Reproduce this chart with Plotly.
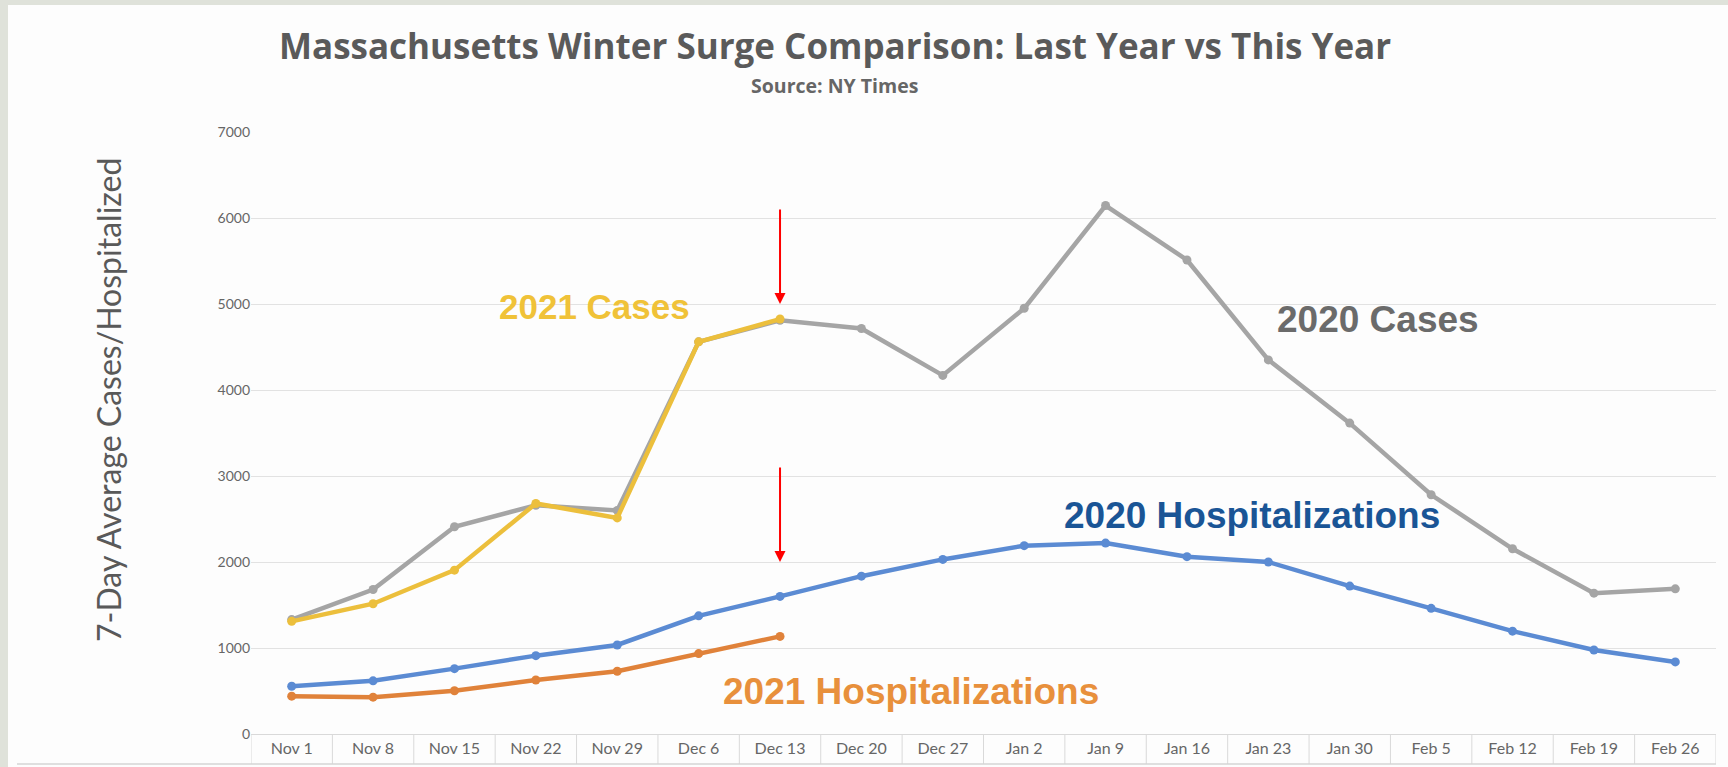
import plotly.graph_objects as go

# ---------------- data ----------------
weeks = ["Nov 1", "Nov 8", "Nov 15", "Nov 22", "Nov 29", "Dec 6", "Dec 13", "Dec 20", "Dec 27",
         "Jan 2", "Jan 9", "Jan 16", "Jan 23", "Jan 30", "Feb 5", "Feb 12", "Feb 19", "Feb 26"]
cases_2020 = [1330, 1680, 2410, 2660, 2600, 4560, 4810, 4715, 4170, 4950, 6145, 5512, 4350,
              3615, 2782, 2154, 1638, 1688]
cases_2021 = [1310, 1515, 1905, 2680, 2513, 4560, 4825]
hosp_2020 = [555, 618, 760, 911, 1035, 1374, 1600, 1835, 2030, 2190, 2220, 2062, 2000, 1720,
             1461, 1196, 977, 838]
hosp_2021 = [440, 428, 503, 628, 730, 935, 1135]
y_ticks = [0, 1000, 2000, 3000, 4000, 5000, 6000, 7000]
arrow_week = "Dec 13"
arrow_tips = [5000, 2000]

# ---------------- layout geometry (pixels) ----------------
WIDTH, HEIGHT = 1728, 767
L, R, T, B = 251, 1716, 132, 734
PW, PH = R - L, B - T


def px(x):
    return (x - L) / PW


def py(y):
    return (B - y) / PH


fig = go.Figure()

GRAY = "#a5a5a5"
GOLD = "#ecbf3c"
BLUE = "#5b8bd3"
ORANGE = "#e0823a"

for name, vals, col in [("2020 Cases", cases_2020, GRAY),
                        ("2021 Cases", cases_2021, GOLD),
                        ("2020 Hospitalizations", hosp_2020, BLUE),
                        ("2021 Hospitalizations", hosp_2021, ORANGE)]:
    fig.add_trace(go.Scatter(
        x=weeks[:len(vals)], y=vals, name=name, mode="lines+markers",
        line=dict(color=col, width=4.5),
        marker=dict(color=col, size=9),
        showlegend=False, hoverinfo="skip",
    ))

BORDER = "#dfe2da"
shapes = []
# page frame: grey-green strips on the left and top edges
shapes.append(dict(type="rect", xref="paper", yref="paper", layer="below",
                   x0=px(-5), x1=px(8), y0=py(HEIGHT + 5), y1=py(-5),
                   fillcolor=BORDER, line=dict(width=0)))
shapes.append(dict(type="rect", xref="paper", yref="paper", layer="below",
                   x0=px(-5), x1=px(WIDTH + 5), y0=py(5), y1=py(-5),
                   fillcolor=BORDER, line=dict(width=0)))
# category table: vertical separators
for i in range(len(weeks) + 1):
    shapes.append(dict(type="line", xref="x", yref="paper",
                       x0=i - 0.5, x1=i - 0.5, y0=0, y1=py(764),
                       line=dict(color="#d9d9d9", width=1)))
# bottom line of table
shapes.append(dict(type="line", xref="paper", yref="paper",
                   x0=px(17), x1=1, y0=py(764), y1=py(764),
                   line=dict(color="#d4d4d4", width=1.5)))

annotations = [
    dict(text="<b>Massachusetts Winter Surge Comparison: Last Year vs This Year</b>",
         x=px(835), y=py(45), xref="paper", yref="paper", showarrow=False,
         xanchor="center", yanchor="middle",
         font=dict(family="Open Sans", size=35, color="#5a5a5a")),
    dict(text="<b>Source: NY Times</b>",
         x=px(834), y=py(85), xref="paper", yref="paper", showarrow=False,
         xanchor="center", yanchor="middle",
         font=dict(family="Open Sans", size=19.5, color="#666666")),
    dict(text="7-Day Average Cases/Hospitalized", textangle=-90,
         x=px(108), y=py(400), xref="paper", yref="paper", showarrow=False,
         xanchor="center", yanchor="middle",
         font=dict(family="Lato", size=32, color="#595959")),
    dict(text="<b>2021 Cases</b>", x=px(594), y=py(306), xref="paper", yref="paper",
         showarrow=False, xanchor="center", yanchor="middle",
         font=dict(family="Liberation Sans", size=35, color="#f0c238")),
    dict(text="<b>2020 Cases</b>", x=px(1378), y=py(319), xref="paper", yref="paper",
         showarrow=False, xanchor="center", yanchor="middle",
         font=dict(family="Liberation Sans", size=37, color="#6b6b6b")),
    dict(text="<b>2020 Hospitalizations</b>", x=px(1252), y=py(515), xref="paper",
         yref="paper", showarrow=False, xanchor="center", yanchor="middle",
         font=dict(family="Liberation Sans", size=37, color="#1a5596")),
    dict(text="<b>2021 Hospitalizations</b>", x=px(911), y=py(691), xref="paper",
         yref="paper", showarrow=False, xanchor="center", yanchor="middle",
         font=dict(family="Liberation Sans", size=37, color="#e8903c")),
]
for tip in arrow_tips:
    annotations.append(dict(text="", x=arrow_week, y=tip, xref="x", yref="y",
                            showarrow=True, arrowhead=2, arrowsize=1.1, arrowwidth=2,
                            arrowcolor="#ff0000", ax=0, ay=-96, standoff=0))

fig.update_layout(
    width=WIDTH, height=HEIGHT,
    margin=dict(l=L, r=WIDTH - R, t=T, b=HEIGHT - B, autoexpand=False),
    paper_bgcolor="#fdfdfd", plot_bgcolor="rgba(0,0,0,0)",
    shapes=shapes, annotations=annotations,
    xaxis=dict(type="category", categoryorder="array", categoryarray=weeks,
               range=[-0.5, len(weeks) - 0.5], showgrid=False, zeroline=False,
               showline=True, linecolor="#d9d9d9", linewidth=1, fixedrange=True,
               ticks="", tickfont=dict(family="Lato", size=16, color="#666666")),
    yaxis=dict(range=[0, 7000], tickvals=y_ticks, showgrid=True, gridcolor="#e2e2e2",
               gridwidth=1.2, zeroline=False, showline=False, fixedrange=True,
               ticks="", ticklabelstandoff=0,
               tickfont=dict(family="Lato", size=14, color="#666666")),
    font=dict(family="Lato"),
)

fig.write_html(
    "out.html",
    config={"displayModeBar": False},
    post_script="document.body.style.margin='0';document.body.style.padding='0';"
                "document.body.style.overflow='hidden';"
                "document.body.style.background='#fdfdfd';",
)
